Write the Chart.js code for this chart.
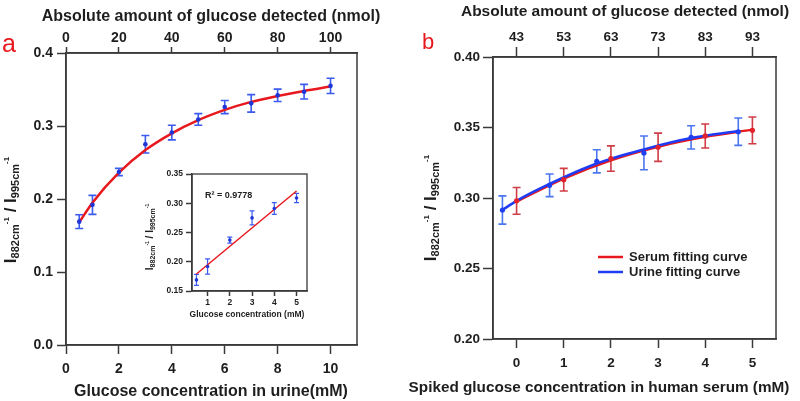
<!DOCTYPE html>
<html>
<head>
<meta charset="utf-8">
<script src="https://cdn.jsdelivr.net/npm/chart.js@4.4.0/dist/chart.umd.min.js"></script>
<style>
  html, body { margin: 0; padding: 0; background: #fff; }
  #wrap { position: relative; width: 800px; height: 401px; overflow: hidden; }
  canvas { position: absolute; }
  .tag { position: absolute; font-family: "Liberation Sans", Arial, sans-serif; color: #e8191e; line-height: 1; }
</style>
</head>
<body>
<div id="wrap">
  <canvas id="chartA" width="400" height="401" style="left:0;top:0"></canvas>
  <canvas id="chartB" width="400" height="401" style="left:400px;top:0"></canvas>
  <canvas id="chartIn" width="175" height="160" style="left:140px;top:165px"></canvas>
  <div class="tag" style="left:2px;top:31px;font-size:25px">a</div>
  <div class="tag" style="left:422px;top:31px;font-size:22px">b</div>
</div>
<script>
var FONT = '"Liberation Sans", Arial, sans-serif';
var TEXT = '#1e1e1e';
var AXIS = '#3a3a3a';

// ---- panel a : urine
var concA = [0.5, 1, 2, 3, 4, 5, 6, 7, 8, 9, 10];
var ratioA = [0.169, 0.192, 0.237, 0.275, 0.291, 0.309, 0.326, 0.331, 0.342, 0.347, 0.355];
var errA = [0.0095, 0.013, 0.005, 0.012, 0.010, 0.008, 0.009, 0.012, 0.0085, 0.010, 0.0105];
var fitConcA = [0.5, 1, 2, 3, 4, 5, 6, 7, 8, 9, 10];
var fitRatioA = [0.168, 0.195, 0.236, 0.267, 0.290, 0.308, 0.322, 0.333, 0.341, 0.348, 0.354];
var bottomTicksA = [0, 2, 4, 6, 8, 10];
var topTicksA = [0, 20, 40, 60, 80, 100];
var yTicksA = [0, 0.1, 0.2, 0.3, 0.4];

// ---- inset : linear range
var concIn = [0.5, 1, 2, 3, 4, 5];
var ratioIn = [0.169, 0.192, 0.237, 0.275, 0.291, 0.309];
var errIn = [0.0095, 0.013, 0.005, 0.012, 0.010, 0.008];
var lineConcIn = [0.5, 5];
var lineRatioIn = [0.179, 0.321];
var xTicksIn = [1, 2, 3, 4, 5];
var yTicksIn = [0.15, 0.20, 0.25, 0.30, 0.35];
var r2Label = 'R\u00b2 = 0.9778';

// ---- panel b : serum vs urine
var serumConc = [0, 1, 2, 3, 4, 5];
var serumRatio = [0.298, 0.313, 0.328, 0.336, 0.344, 0.348];
var serumErr = [0.0095, 0.008, 0.009, 0.010, 0.0085, 0.0095];
var urineConc = [-0.3, 0.7, 1.7, 2.7, 3.7, 4.7];
var urineRatio = [0.2915, 0.309, 0.326, 0.332, 0.343, 0.347];
var urineErr = [0.010, 0.008, 0.0082, 0.012, 0.0082, 0.0097];
var serumFitConc = [0, 1, 2, 3, 4, 5];
var serumFitRatio = [0.2975, 0.3138, 0.3268, 0.3364, 0.3434, 0.3485];
var urineFitConc = [-0.3, 0, 0.7, 1.7, 2.7, 3.7, 4.7];
var urineFitRatio = [0.2915, 0.298, 0.310, 0.3245, 0.3345, 0.3425, 0.3475];
var bottomTicksB = [0, 1, 2, 3, 4, 5];
var topTicksB = [43, 53, 63, 73, 83, 93];
var yTicksB = [0.20, 0.25, 0.30, 0.35, 0.40];

Chart.defaults.font.family = FONT;
Chart.defaults.animation = false;

function pts(xs, ys) {
  return xs.map(function(x, i) { return { x: x, y: ys[i] }; });
}

function linAxis(c) {
  return {
    type: 'linear', axis: c.axis, position: c.pos, min: c.min, max: c.max,
    afterBuildTicks: function(s) { s.ticks = c.ticks.map(function(v) { return { value: v }; }); },
    afterFit: function(s) { if (c.pos === 'left') s.width = c.size; else s.height = c.size; },
    grid: { drawOnChartArea: false, tickLength: c.tl, tickWidth: 1.5, tickColor: AXIS },
    border: { color: AXIS, width: 1.5 },
    ticks: {
      padding: c.pad, color: TEXT, font: { size: c.fs, weight: 'bold' },
      maxRotation: 0, autoSkip: false,
      callback: c.fmt || function(v) { return v; }
    }
  };
}

// I882cm-1 / I995cm-1 with sub/superscripts, rotated
function ratioTitle(ctx, cx, cy, big, sub, sup) {
  var parts = [
    ['I', big, 0], ['882cm', sub, sub * 0.3], ['-1', sup, -big * 0.42], [' / ', big, 0],
    ['I', big, 0], ['995cm', sub, sub * 0.3], ['-1', sup, -big * 0.42]
  ];
  ctx.save();
  ctx.translate(cx, cy);
  ctx.rotate(-Math.PI / 2);
  var total = 0;
  parts.forEach(function(p) {
    ctx.font = 'bold ' + p[1] + 'px ' + FONT;
    p.push(ctx.measureText(p[0]).width);
    total += p[3];
  });
  var x = -total / 2;
  ctx.fillStyle = TEXT;
  ctx.textAlign = 'left';
  ctx.textBaseline = 'alphabetic';
  parts.forEach(function(p) {
    ctx.font = 'bold ' + p[1] + 'px ' + FONT;
    ctx.fillText(p[0], x, big * 0.36 + p[2]);
    x += p[3];
  });
  ctx.restore();
}

var errorBars = {
  id: 'errorBars',
  beforeDatasetsDraw: function(chart) {
    var ctx = chart.ctx, xs = chart.scales.x, ys = chart.scales.y;
    chart.data.datasets.forEach(function(ds) {
      if (!ds.errors) return;
      ctx.save();
      ctx.strokeStyle = ds.errorColor;
      ctx.lineWidth = ds.errorWidth;
      ds.data.forEach(function(p, j) {
        var px = xs.getPixelForValue(p.x);
        var top = ys.getPixelForValue(p.y + ds.errors[j]);
        var bot = ys.getPixelForValue(p.y - ds.errors[j]);
        var w = ds.capHalf;
        ctx.beginPath();
        ctx.moveTo(px, top); ctx.lineTo(px, bot);
        ctx.moveTo(px - w, top); ctx.lineTo(px + w, top);
        ctx.moveTo(px - w, bot); ctx.lineTo(px + w, bot);
        ctx.stroke();
      });
      ctx.restore();
    });
  }
};

var decor = {
  id: 'decor',
  afterDraw: function(chart, args, o) {
    var ctx = chart.ctx, a = chart.chartArea;
    ctx.save();
    ctx.strokeStyle = AXIS;
    ctx.lineWidth = o.frameWidth;
    ctx.strokeRect(a.left, a.top, a.right - a.left, a.bottom - a.top);
    ctx.fillStyle = TEXT;
    ctx.textBaseline = 'middle';
    (o.texts || []).forEach(function(t) {
      ctx.font = 'bold ' + t.size + 'px ' + FONT;
      ctx.textAlign = t.align || 'center';
      ctx.fillText(t.text, t.x, t.y);
    });
    if (o.ytitle) ratioTitle(ctx, o.ytitle.x, o.ytitle.y, o.ytitle.big, o.ytitle.sub, o.ytitle.sup);
    if (o.legend) {
      var L = o.legend;
      ctx.textBaseline = 'middle';
      chart.data.datasets.filter(function(d) { return d.inLegend; }).forEach(function(d, i) {
        var y = L.y + i * L.gap;
        ctx.strokeStyle = d.borderColor;
        ctx.lineWidth = 2.5;
        ctx.beginPath();
        ctx.moveTo(L.x, y); ctx.lineTo(L.x + L.len, y);
        ctx.stroke();
        ctx.font = 'bold ' + L.size + 'px ' + FONT;
        ctx.textAlign = 'left';
        ctx.fillStyle = TEXT;
        ctx.fillText(d.label, L.x + L.len + 6, y);
      });
    }
    ctx.restore();
  }
};

// ---------- panel a
new Chart(document.getElementById('chartA'), {
  type: 'scatter',
  data: {
    datasets: [
      { label: 'urine', data: pts(concA, ratioA), order: 0,
        pointRadius: 2.3, pointBackgroundColor: '#1f35d6', pointBorderWidth: 0,
        errors: errA, errorColor: '#3b5bee', errorWidth: 1.6, capHalf: 4 },
      { label: 'fit', data: pts(fitConcA, fitRatioA), order: 1, showLine: true,
        borderColor: '#e8191e', borderWidth: 2.5, pointRadius: 0, cubicInterpolationMode: 'monotone' }
    ]
  },
  options: {
    responsive: false, devicePixelRatio: 1,
    layout: { padding: { right: 43 } },
    plugins: {
      legend: { display: false }, tooltip: { enabled: false },
      decor: {
        frameWidth: 1.5,
        texts: [
          { text: 'Absolute amount of glucose detected (nmol)', x: 211, y: 17, size: 16 },
          { text: 'Glucose concentration in urine(mM)', x: 211, y: 392, size: 16 }
        ],
        ytitle: { x: 10, y: 210, big: 17, sub: 11, sup: 8 }
      }
    },
    scales: {
      x: linAxis({ axis: 'x', pos: 'bottom', min: 0, max: 11, ticks: bottomTicksA, size: 56, tl: 9, pad: 7, fs: 14 }),
      xTop: linAxis({ axis: 'x', pos: 'top', min: 0, max: 110, ticks: topTicksA, size: 53, tl: 6, pad: 0, fs: 14 }),
      y: linAxis({ axis: 'y', pos: 'left', min: 0, max: 0.4, ticks: yTicksA, size: 66, tl: 9, pad: 4, fs: 14,
        fmt: function(v) { return v.toFixed(1); } })
    }
  },
  plugins: [errorBars, decor]
});

// ---------- inset
new Chart(document.getElementById('chartIn'), {
  type: 'scatter',
  data: {
    datasets: [
      { label: 'linear', data: pts(concIn, ratioIn), order: 0,
        pointRadius: 1.8, pointBackgroundColor: '#1f35d6', pointBorderWidth: 0,
        errors: errIn, errorColor: '#3b5bee', errorWidth: 1.2, capHalf: 2.5 },
      { label: 'line', data: pts(lineConcIn, lineRatioIn), order: 1, showLine: true,
        borderColor: '#e8191e', borderWidth: 1.5, pointRadius: 0 }
    ]
  },
  options: {
    responsive: false, devicePixelRatio: 1,
    layout: { padding: { top: 9, right: 8 } },
    plugins: {
      legend: { display: false }, tooltip: { enabled: false },
      decor: {
        frameWidth: 1.3,
        texts: [
          { text: r2Label, x: 65, y: 31, size: 9, align: 'left' },
          { text: 'Glucose concentration (mM)', x: 107, y: 150, size: 8.5 }
        ],
        ytitle: { x: 9.5, y: 72, big: 10, sub: 7, sup: 5 }
      }
    },
    scales: {
      x: linAxis({ axis: 'x', pos: 'bottom', min: 0.3, max: 5.47, ticks: xTicksIn, size: 34, tl: 5, pad: 2, fs: 8.5 }),
      y: linAxis({ axis: 'y', pos: 'left', min: 0.15, max: 0.35, ticks: yTicksIn, size: 52, tl: 6, pad: 3, fs: 8.5,
        fmt: function(v) { return v.toFixed(2); } })
    }
  },
  plugins: [errorBars, decor]
});

// ---------- panel b
new Chart(document.getElementById('chartB'), {
  type: 'scatter',
  data: {
    datasets: [
      { label: 'urine pts', data: pts(urineConc, urineRatio), order: 0,
        pointRadius: 2.6, pointBackgroundColor: '#1e3ff0', pointBorderWidth: 0,
        errors: urineErr, errorColor: '#4a76f0', errorWidth: 1.6, capHalf: 4 },
      { label: 'serum pts', data: pts(serumConc, serumRatio), order: 1,
        pointRadius: 2.6, pointBackgroundColor: '#e4202a', pointBorderWidth: 0,
        errors: serumErr, errorColor: '#cf3d45', errorWidth: 1.6, capHalf: 4 },
      { label: 'Serum fitting curve', inLegend: true, data: pts(serumFitConc, serumFitRatio), order: 3, showLine: true,
        borderColor: '#e8191e', borderWidth: 2.5, pointRadius: 0, cubicInterpolationMode: 'monotone' },
      { label: 'Urine fitting curve', inLegend: true, data: pts(urineFitConc, urineFitRatio), order: 2, showLine: true,
        borderColor: '#1f3cf5', borderWidth: 2.5, pointRadius: 0, cubicInterpolationMode: 'monotone' }
    ]
  },
  options: {
    responsive: false, devicePixelRatio: 1,
    layout: { padding: { right: 24 } },
    plugins: {
      legend: { display: false }, tooltip: { enabled: false },
      decor: {
        frameWidth: 1.5,
        texts: [
          { text: 'Absolute amount of glucose detected (nmol)', x: 225, y: 12, size: 15.5 },
          { text: 'Spiked glucose concentration in human serum (mM)', x: 199, y: 388, size: 15.3 }
        ],
        ytitle: { x: 30, y: 208, big: 17, sub: 11, sup: 8 },
        legend: { x: 198, y: 257, gap: 15, len: 25, size: 13 }
      }
    },
    scales: {
      x: linAxis({ axis: 'x', pos: 'bottom', min: -0.5, max: 5.5, ticks: bottomTicksB, size: 62, tl: 9, pad: 7, fs: 13.5 }),
      xTop: linAxis({ axis: 'x', pos: 'top', min: 38, max: 98, ticks: topTicksB, size: 57, tl: 10, pad: 2, fs: 13.5 }),
      y: linAxis({ axis: 'y', pos: 'left', min: 0.2, max: 0.4, ticks: yTicksB, size: 93, tl: 10, pad: 3, fs: 13.5,
        fmt: function(v) { return v.toFixed(2); } })
    }
  },
  plugins: [errorBars, decor]
});
</script>
</body>
</html>
